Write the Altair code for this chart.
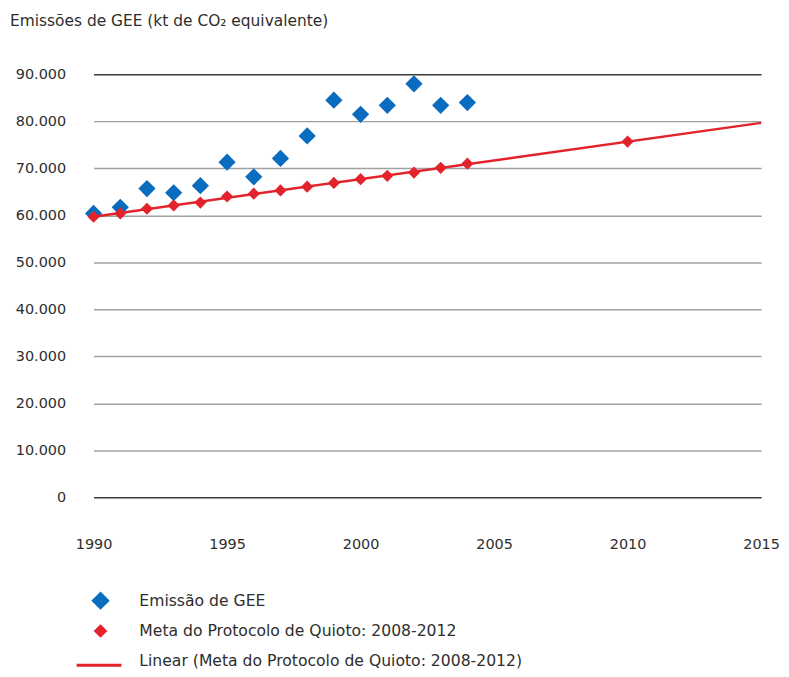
import altair as alt
import pandas as pd

# ---- data ----
emission_years = [1990, 1991, 1992, 1993, 1994, 1995, 1996, 1997, 1998, 1999,
                  2000, 2001, 2002, 2003, 2004]
emission_values = [60400, 61700, 65700, 64800, 66300, 71300, 68200, 72100, 76900,
                   84500, 81500, 83400, 88000, 83400, 84000]

target_years = [1990, 1991, 1992, 1993, 1994, 1995, 1996, 1997, 1998, 1999,
                2000, 2001, 2002, 2003, 2004, 2010]
target_values = [59700, 60400, 61400, 62100, 62700, 64000, 64600, 65300, 66100,
                 66900, 67700, 68400, 69100, 70100, 71000, 75700]

series_labels = ["Emissão de GEE",
                 "Meta do Protocolo de Quioto: 2008-2012",
                 "Linear (Meta do Protocolo de Quioto: 2008-2012)"]
trend_extent = [1990, 2015]
x_ticks = [1990, 1995, 2000, 2005, 2010, 2015]
y_ticks = [0, 10000, 20000, 30000, 40000, 50000, 60000, 70000, 80000, 90000]

BLUE = "#0a6cbf"
RED = "#e2232b"
FONT = "DejaVu Sans"
TXT = "#2e2e2e"

df = pd.concat([
    pd.DataFrame({"year": emission_years, "value": emission_values, "series": series_labels[0]}),
    pd.DataFrame({"year": target_years, "value": target_values, "series": series_labels[1]}),
], ignore_index=True)

legend_df = pd.DataFrame({"series": series_labels})

x = alt.X("year:Q",
          scale=alt.Scale(domain=[1990, 2015], nice=False, zero=False),
          axis=alt.Axis(values=x_ticks, format="d", title=None, grid=False,
                        domain=False, ticks=False, labelPadding=41,
                        labelFontSize=14.5, labelColor=TXT, labelFont=FONT,
                        labelFlush=False))
y = alt.Y("value:Q",
          scale=alt.Scale(domain=[0, 90000], nice=False),
          axis=alt.Axis(values=y_ticks, title=None, domain=False, ticks=False,
                        labelExpr="replace(format(datum.value, ','), ',', '.')",
                        labelPadding=28, labelFontSize=14.5, labelColor=TXT,
                        labelFont=FONT, gridWidth=1.5,
                        gridColor={"condition": {"test": "datum.value === 0 || datum.value === 90000",
                                                 "value": "#3a3a3a"},
                                   "value": "#a0a0a0"}))

color = alt.Color("series:N",
                  scale=alt.Scale(domain=series_labels, range=[BLUE, RED, RED]),
                  legend=None)

base = alt.Chart(df)

blue_pts = base.transform_filter(alt.datum.series == series_labels[0]).mark_point(
    filled=True, opacity=1, shape="diamond", size=300).encode(x=x, y=y, color=color)

trend = base.transform_filter(alt.datum.series == series_labels[1]).transform_regression(
    "year", "value", extent=trend_extent).transform_calculate(
    series=f"'{series_labels[2]}'").mark_line(strokeWidth=2.5).encode(
    x=x, y=y, color=color)

red_pts = base.transform_filter(alt.datum.series == series_labels[1]).mark_point(
    filled=True, opacity=1, shape="diamond", size=150).encode(x=x, y=y, color=color)

main = alt.layer(blue_pts, trend, red_pts)

# ---- hand-built legend below the plot ----
ly = alt.Y("series:N", axis=None,
           scale=alt.Scale(type="point", domain=series_labels, range=[529, 590], padding=0))
lbase = alt.Chart(legend_df)

leg_blue = lbase.transform_filter(alt.datum.series == series_labels[0]).mark_point(
    filled=True, opacity=1, shape="diamond", size=340, color=BLUE).encode(
    x=alt.value(7), y=ly)
leg_red = lbase.transform_filter(alt.datum.series == series_labels[1]).mark_point(
    filled=True, opacity=1, shape="diamond", size=190, color=RED).encode(
    x=alt.value(7), y=ly)
leg_line = lbase.transform_filter(alt.datum.series == series_labels[2]).mark_rule(
    color=RED, strokeWidth=3, yOffset=4).encode(
    x=alt.value(-17), x2=alt.value(28), y=ly)
leg_text = lbase.mark_text(align="left", baseline="middle", font=FONT, fontSize=15.7,
                           color=TXT).encode(x=alt.value(46), y=ly, text="series:N")

legend = alt.layer(leg_blue, leg_red, leg_line, leg_text)

chart = alt.layer(main, legend).resolve_scale(y="independent").properties(
    width=671, height=425,
    title=alt.TitleParams("Emissões de GEE (kt de CO₂ equivalente)", anchor="start",
                          frame="group", dx=-84, dy=-7, fontSize=15.5, fontWeight="normal",
                          font=FONT, color=TXT, offset=30),
    autosize=alt.AutoSizeParams(type="none"),
    padding={"left": 86, "top": 65, "right": 20, "bottom": 171},
).configure_view(stroke=None)

chart.save("out.html", embed_options={"renderer": "svg", "actions": False})
